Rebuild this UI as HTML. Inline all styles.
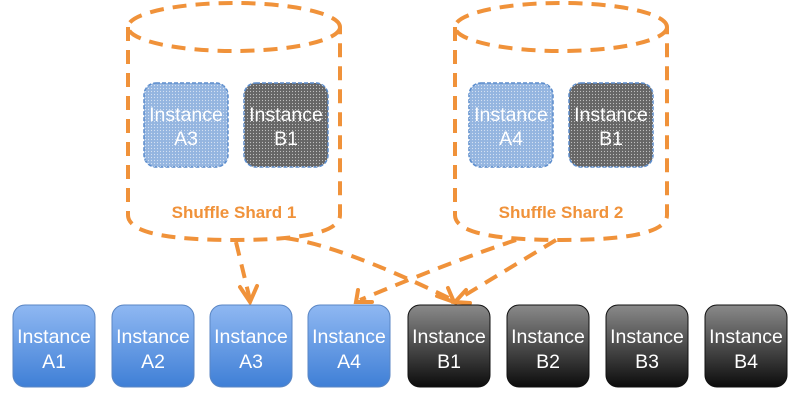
<!DOCTYPE html>
<html><head><style>
body{margin:0;background:#fff;width:800px;height:400px;overflow:hidden;font-family:"Liberation Sans",sans-serif}
</style></head><body>
<svg width="800" height="400" viewBox="0 0 800 400" xmlns="http://www.w3.org/2000/svg">
<defs>
<linearGradient id="ga" x1="0" y1="0" x2="0" y2="1"><stop offset="0" stop-color="#8fb8f2"/><stop offset="1" stop-color="#3f7fd6"/></linearGradient>
<linearGradient id="gb" x1="0" y1="0" x2="0" y2="1"><stop offset="0" stop-color="#8a8a8a"/><stop offset="1" stop-color="#0c0c0c"/></linearGradient>
<pattern id="dots" width="3" height="3" patternUnits="userSpaceOnUse"><circle cx="1.5" cy="1.5" r="0.6" fill="#fff" opacity="0.6"/></pattern>
</defs>
<g fill="none" stroke="#f0923a" stroke-width="4" stroke-dasharray="14 9">
<ellipse cx="234" cy="27" rx="106" ry="24"/>
<path d="M128 27 V215 Q128 240 234 240 Q340 240 340 215 V27"/>
<ellipse cx="561" cy="27" rx="106" ry="24"/>
<path d="M455 27 V215 Q455 240 561 240 Q667 240 667 215 V27"/>
<path d="M236 242 L250 300"/>
<path d="M285 238 Q340 245 453 300"/>
<path d="M516 240 Q450 262 360 300"/>
<path d="M556 240 L457 300"/>
</g>
<g fill="none" stroke="#f0923a" stroke-width="4" stroke-linecap="round">
<path d="M240 287 L250 302 L257 286"/>
<path d="M437 296 L454 302 L448 288"/>
<path d="M358 290 L356 302 L372 302"/>
<path d="M466 290 L455 302 L470 303"/>
</g>
<g font-size="19.5" fill="#fff" text-anchor="middle">
<g stroke="#5b8ccc" stroke-width="1.5" stroke-dasharray="4 2">
<rect x="144" y="83" width="84" height="84" rx="12" fill="#94b5e0"/>
<rect x="244" y="83" width="84" height="84" rx="12" fill="#666"/>
<rect x="469" y="83" width="84" height="84" rx="12" fill="#94b5e0"/>
<rect x="569" y="83" width="84" height="84" rx="12" fill="#666"/>
</g>
<rect x="144" y="83" width="84" height="84" rx="12" fill="url(#dots)"/>
<rect x="244" y="83" width="84" height="84" rx="12" fill="url(#dots)"/>
<rect x="469" y="83" width="84" height="84" rx="12" fill="url(#dots)"/>
<rect x="569" y="83" width="84" height="84" rx="12" fill="url(#dots)"/>
<text x="186" y="121">Instance</text><text x="186" y="145">A3</text>
<text x="286" y="121">Instance</text><text x="286" y="145">B1</text>
<text x="511" y="121">Instance</text><text x="511" y="145">A4</text>
<text x="611" y="121">Instance</text><text x="611" y="145">B1</text>
</g>
<g font-size="17" font-weight="bold" fill="#f0923a" text-anchor="middle">
<text x="234" y="218">Shuffle Shard 1</text>
<text x="561" y="218">Shuffle Shard 2</text>
</g>
<g font-size="19.5" fill="#fff" text-anchor="middle">
<rect x="13" y="305" width="82" height="82" rx="12" fill="url(#ga)" stroke="#5a86c4"/>
<rect x="112" y="305" width="82" height="82" rx="12" fill="url(#ga)" stroke="#5a86c4"/>
<rect x="210" y="305" width="82" height="82" rx="12" fill="url(#ga)" stroke="#5a86c4"/>
<rect x="308" y="305" width="82" height="82" rx="12" fill="url(#ga)" stroke="#5a86c4"/>
<rect x="408" y="305" width="82" height="82" rx="12" fill="url(#gb)" stroke="#111"/>
<rect x="507" y="305" width="82" height="82" rx="12" fill="url(#gb)" stroke="#111"/>
<rect x="606" y="305" width="82" height="82" rx="12" fill="url(#gb)" stroke="#111"/>
<rect x="705" y="305" width="82" height="82" rx="12" fill="url(#gb)" stroke="#111"/>
<text x="54" y="343">Instance</text><text x="54" y="368">A1</text>
<text x="153" y="343">Instance</text><text x="153" y="368">A2</text>
<text x="251" y="343">Instance</text><text x="251" y="368">A3</text>
<text x="349" y="343">Instance</text><text x="349" y="368">A4</text>
<text x="449" y="343">Instance</text><text x="449" y="368">B1</text>
<text x="548" y="343">Instance</text><text x="548" y="368">B2</text>
<text x="647" y="343">Instance</text><text x="647" y="368">B3</text>
<text x="746" y="343">Instance</text><text x="746" y="368">B4</text>
</g>
</svg>
</body></html>
